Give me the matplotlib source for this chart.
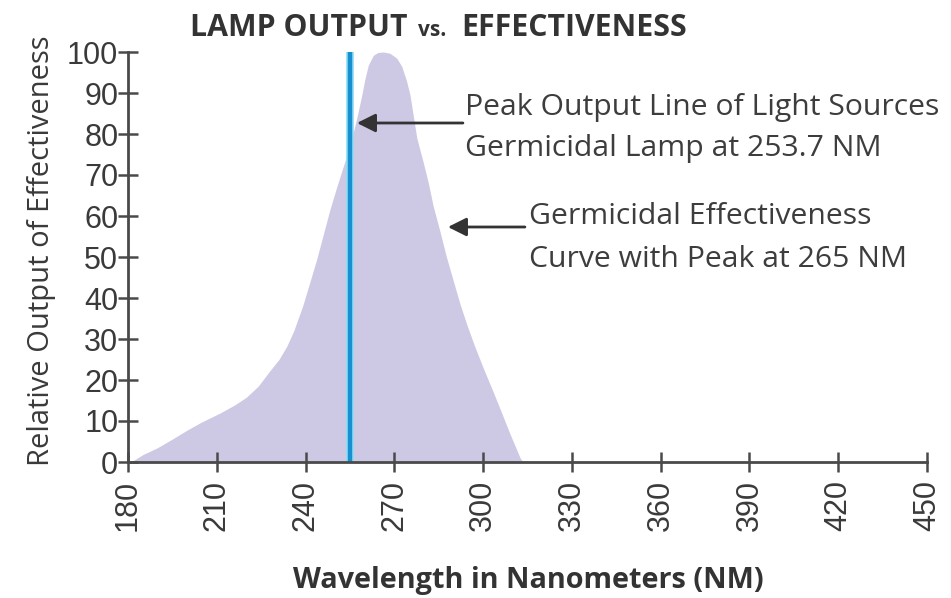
import matplotlib
matplotlib.use("Agg")
import matplotlib.pyplot as plt

# ---- data ----
wavelength_nm = [181, 185, 190, 195, 200, 205, 211, 216, 220, 224, 228, 231,
                 233.7, 236, 239, 241.5, 243.7, 246, 248.2, 250.5, 252.7, 254.5,
                 256, 257.5, 259, 260, 261.2, 262.9, 264.5, 266.3, 268.5, 270.8,
                 272.5, 274.1, 275.3, 276.5, 277.6, 279.8, 281.5, 283.1, 285.5,
                 287.6, 290, 292.2, 294.5, 297, 300, 303, 305.7, 309, 312.5, 313.5]
effectiveness = [0, 1.8, 3.5, 5.6, 7.8, 9.8, 11.9, 13.9, 15.8, 18.5, 22.3, 25,
                 28.3, 32, 38, 44, 49.3, 55.5, 61.5, 67, 72, 76,
                 80, 84.5, 89.5, 93.2, 96.8, 99.2, 99.9, 100, 99.7, 98.5,
                 96.5, 93, 89.5, 84, 79, 73, 68, 62.5, 56,
                 50, 44, 38.5, 33.5, 28.5, 23, 17.8, 13, 7, 1, 0]
lamp_nm = 255
lamp_output = 100
x_ticks = [180, 210, 240, 270, 300, 330, 360, 390, 420, 450]
y_ticks = [0, 10, 20, 30, 40, 50, 60, 70, 80, 90, 100]

W, H = 951, 598
fig = plt.figure(figsize=(W / 100, H / 100), dpi=100)
ax = fig.add_axes([128 / W, 1 - 462 / H, (927 - 128) / W, (462 - 52) / H])

ax.fill_between(wavelength_nm, effectiveness, 0, color="#cdc9e4", lw=0, zorder=1)
ax.vlines(lamp_nm, 0, lamp_output, color="#8fdcf7", lw=5.5, zorder=2)
ax.vlines(lamp_nm, 0, lamp_output, color="#1690cf", lw=3.2, zorder=3)

ax.set_xlim(180, 450)
ax.set_ylim(0, 100)
ax.set_xticks(x_ticks)
ax.set_yticks(y_ticks)
ax.set_xticklabels([str(v) for v in x_ticks], rotation=90)
for s in ["top", "right"]:
    ax.spines[s].set_visible(False)
for s in ["left", "bottom"]:
    ax.spines[s].set_color("#4a4a4a")
    ax.spines[s].set_linewidth(2)
    ax.spines[s].set_zorder(4)
ax.tick_params(axis="both", direction="inout", length=14, width=1.8,
               color="#4a4a4a", labelcolor="#3a3a3a")
ax.tick_params(axis="y", pad=0, labelsize=22)
ax.tick_params(axis="x", pad=6, labelsize=22)
for lab in ax.get_xticklabels() + ax.get_yticklabels():
    lab.set_family("Liberation Sans")
ax.patch.set_alpha(0)

fig.text(42 / W, 1 - 251 / H, "Relative Output of Effectiveness", family="Open Sans",
         fontsize=21, color="#3a3a3a", rotation=90, ha="center", va="center")
fig.text(528 / W, 1 - 588 / H, "Wavelength in Nanometers (NM)", family="Open Sans",
         weight="bold", fontsize=20.8, color="#333333", ha="center", va="baseline")

# title
ty = 1 - 36 / H
fig.text(190 / W, ty, "LAMP OUTPUT", family="Open Sans", weight="bold",
         fontsize=21.8, color="#333333", ha="left", va="baseline")
fig.text(418 / W, ty, "vs.", family="Open Sans", weight="bold",
         fontsize=15, color="#333333", ha="left", va="baseline")
fig.text(687 / W, ty, "EFFECTIVENESS", family="Open Sans", weight="bold",
         fontsize=21.8, color="#333333", ha="right", va="baseline")

def px2data(px, py):
    return 180 + (px - 128) / 2.96, (462 - py) / 4.1

arrow_kw = dict(arrowstyle="-|>", color="#333333", lw=2, mutation_scale=28,
                shrinkA=0, shrinkB=0)
ax.annotate("", xy=px2data(357, 123), xytext=px2data(463, 123),
            arrowprops=arrow_kw, zorder=5)
ax.annotate("", xy=px2data(448, 227), xytext=px2data(525, 227),
            arrowprops=arrow_kw, zorder=5)

txt_kw = dict(family="Open Sans", fontsize=21.7, color="#3d3d3d", ha="left",
              va="center")
fig.text(465 / W, 1 - 107 / H, "Peak Output Line of Light Sources", **txt_kw)
fig.text(465 / W, 1 - 148 / H, "Germicidal Lamp at 253.7 NM", **txt_kw)
fig.text(529 / W, 1 - 217 / H, "Germicidal Effectiveness", **txt_kw)
fig.text(529 / W, 1 - 260 / H, "Curve with Peak at 265 NM", **txt_kw)

fig.savefig("out.png", dpi=100)
